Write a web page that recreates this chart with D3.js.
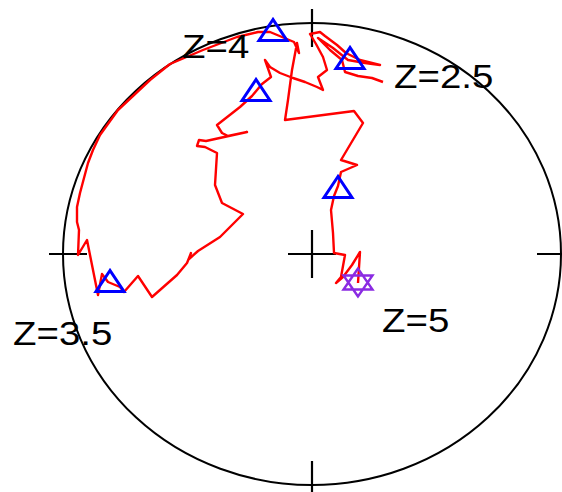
<!DOCTYPE html>
<html>
<head>
<meta charset="utf-8">
<script src="https://cdn.jsdelivr.net/npm/d3@7"></script>
<style>
  html, body { margin: 0; padding: 0; background: #fff; }
  svg { display: block; }
</style>
</head>
<body>
<svg id="chart" width="562" height="492"></svg>
<script>
// Track position as offsets from the chart centre (horizontal, vertical),
// ordered from Z=5 down to Z=2.5.
const trackX = [46, 48, 40, 31, 24, 29, 33, 22, 21, 19, 22, 26, 29, 45, 29, 51, 42, -27, -24, -20,
  -15, -13, -18, -30, -42, -54, -75, -109, -142, -162, -194, -212, -219, -224, -232, -235, -235, -233,
  -234, -225, -222, -214, -210, -204, -192, -188, -174, -160, -135, -125, -121, -123, -114, -92, -69,
  -90, -97, -95, -107, -115, -113, -106, -65, -84, -90, -95, -72, -60, -50, -41, -47, -42, -32, -19,
  -7, 5, 11, 6, 15, 11, 4, -2, 8, 13, 25, 34, 48, 68, 53, 36, 21, 6, 18, 30, 33, 46, 60, 71];
const trackY = [-29, 2, -11, -23, -29, -23, -1, 1, 21, 44, 58, 68, 82, 89, 94, 131, 143, 134, 154, 184,
  211, 201, 212, 217, 222, 222, 217, 204, 190, 174, 144, 119, 104, 91, 61, 47, 32, 24,
  -1, 14, -1, -41, -20, -28, -33, -38, -22, -43, -21, -9, 1, -5, 3, 17, 40,
  51, 69, 101, 107, 108, 114, 113, 122, 118, 121, 129, 147, 158, 170, 177, 194, 187, 181, 176,
  172, 167, 164, 177, 184, 197, 210, 220, 222, 218, 209, 201, 194, 189, 191, 194, 206, 216, 204, 194, 182, 178, 176, 172];

// Redshift markers along the track
const markerZ = [5, 4.5, 4, 3.5, 3, 2.5];
const markerX = [46, 26, -39, -202, -56, 38];
const markerY = [-28.5, 67, 224, -27, 164, 196];
const labelledZ = [5, 4, 3.5, 2.5];

const svg = d3.select("#chart");

const x = d3.scaleLinear().domain([-249, 249]).range([63, 561]);
const y = d3.scaleLinear().domain([-231, 231]).range([485, 23]);

const cx = x(0), cy = y(0);
const rx = x(249) - x(0), ry = y(0) - y(231);

// Boundary ellipse
svg.append("ellipse")
  .attr("cx", cx).attr("cy", cy)
  .attr("rx", rx).attr("ry", ry)
  .attr("fill", "none")
  .attr("stroke", "#000")
  .attr("stroke-width", 2);

// Tick marks where the axes meet the boundary, and the centre cross
const tickOut = 14, tickIn = 24, crossHalf = 24;
const tickLines = [
  [cx, y(231) - tickOut, cx, y(231) + tickIn],
  [cx, y(-231) + tickOut, cx, y(-231) - tickIn],
  [x(-249) - tickOut, cy, x(-249) + tickIn, cy],
  [x(249) + tickOut, cy, x(249) - tickIn, cy],
  [cx - crossHalf, cy, cx + crossHalf, cy],
  [cx, cy - crossHalf, cx, cy + crossHalf]
];
svg.append("g").selectAll("line")
  .data(tickLines)
  .join("line")
  .attr("x1", d => d[0]).attr("y1", d => d[1])
  .attr("x2", d => d[2]).attr("y2", d => d[3])
  .attr("stroke", "#000")
  .attr("stroke-width", 2.2);

// Track
const track = trackX.map((v, i) => [v, trackY[i]]);
svg.append("path")
  .datum(track)
  .attr("d", d3.line().x(d => x(d[0])).y(d => y(d[1])))
  .attr("fill", "none")
  .attr("stroke", "#ff0000")
  .attr("stroke-width", 2.4)
  .attr("stroke-linejoin", "round");

// Markers: hexagram for the start, triangles for the rest
const markers = markerZ.map((z, i) => ({ z, x: markerX[i], y: markerY[i] }));
const tri = "M0,-10.5L-14,10.5L14,10.5Z";
const star = "M0,-14L-14.5,7L14.5,7Z M0,14L-14.5,-7L14.5,-7Z";
svg.append("g").selectAll("path")
  .data(markers)
  .join("path")
  .attr("transform", d => `translate(${x(d.x)},${y(d.y)})`)
  .attr("d", d => d.z === 5 ? star : tri)
  .attr("fill", "none")
  .attr("stroke", d => d.z === 5 ? "#8a2be2" : "#0000ff")
  .attr("stroke-width", d => d.z === 5 ? 2.4 : 3)
  .attr("stroke-linejoin", "miter");

// Redshift labels, placed beside their markers
const labelOffset = { 5: [24, 49.5], 4: [-91, 28], 3.5: [-97, 64], 2.5: [44, 30] };
svg.append("g").selectAll("text")
  .data(markers.filter(m => labelledZ.includes(m.z)))
  .join("text")
  .attr("transform", d => `translate(${x(d.x) + labelOffset[d.z][0]},${y(d.y) + labelOffset[d.z][1]}) scale(1.13,1)`)
  .attr("font-family", "'Liberation Sans', Arial, sans-serif")
  .attr("font-size", 34)
  .attr("fill", "#000")
  .text(d => "Z=" + d.z);
</script>
</body>
</html>
